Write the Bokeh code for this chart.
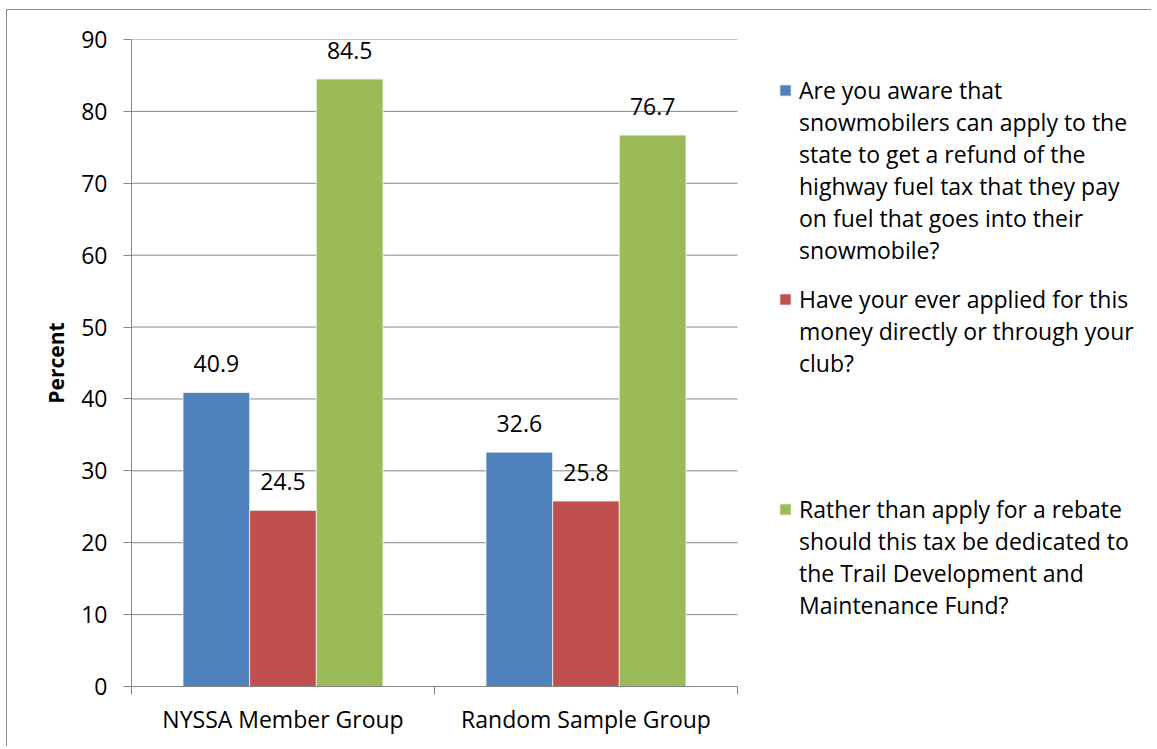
from bokeh.plotting import figure
from bokeh.models import (ColumnDataSource, Range1d, FixedTicker, Legend, LegendItem)
from bokeh.transform import dodge
from bokeh.core.properties import value
from bokeh.embed import file_html
from bokeh.resources import INLINE

# ---- data ----
groups = ["NYSSA Member Group", "Random Sample Group"]
aware = [40.9, 32.6]
applied = [24.5, 25.8]
dedicated = [84.5, 76.7]
series_lines = [
    ["Are you aware that", "snowmobilers can apply to the", "state to get a refund of the",
     "highway fuel tax that they pay", "on fuel that goes into their", "snowmobile?"],
    ["Have your ever applied for this", "money directly or through your", "club?"],
    ["Rather than apply for a rebate", "should this tax be dedicated to",
     "the Trail Development and", "Maintenance Fund?"],
]
colors = ["#4F81BD", "#C0504D", "#9BBB59"]
y_ticks = [0, 10, 20, 30, 40, 50, 60, 70, 80, 90]

FONT = "Open Sans"
GRAY = "#868686"

centers = [i + 0.5 for i in range(len(groups))]
src = ColumnDataSource(dict(
    x=centers,
    aware=aware, applied=applied, dedicated=dedicated,
    aware_t=[f"{v:.1f}" for v in aware],
    applied_t=[f"{v:.1f}" for v in applied],
    dedicated_t=[f"{v:.1f}" for v in dedicated],
))

# layout: the chart area (2 categories) is 606 px wide; the frame is widened to host the legend
CHART_W, FW, FH = 606, 1020, 647
n = len(groups)
p = figure(frame_width=FW, frame_height=FH, output_backend="svg", toolbar_location=None,
           x_range=Range1d(0, n * FW / CHART_W), y_range=Range1d(0, 90),
           min_border_left=124, min_border_right=0, min_border_top=29,
           min_border_bottom=60)
p.outline_line_color = None
p.background_fill_color = "white"
p.border_fill_color = "white"
p.styles = {"border-top": "1px solid #8c8c8c", "border-left": "1px solid #8c8c8c",
            "margin-left": "6px", "margin-top": "9px"}

# horizontal gridlines only across the chart area
p.segment(x0=[0] * len(y_ticks), x1=[n] * len(y_ticks), y0=y_ticks, y1=y_ticks,
          line_color=GRAY, line_width=1)

W = 0.22
keys = ["aware", "applied", "dedicated"]
offs = [-W, 0.0, W]
renderers = []
for off, key, col in zip(offs, keys, colors):
    r = p.vbar(x=dodge("x", off, range=p.x_range), top=key, width=W, bottom=0,
               source=src, fill_color=col, line_color="#f4f6ee", line_width=0.8)
    renderers.append(r)
for off, key in zip(offs, keys):
    p.text(x=dodge("x", off, range=p.x_range), y=key, text=key + "_t", source=src,
           text_align="center", text_baseline="alphabetic", y_offset=-29,
           text_font=value(FONT), text_font_size="23px", text_color="black")

dummy = p.vbar(x=[], top=[], width=0.1, fill_alpha=0, line_alpha=0)

# y axis
ya = p.yaxis[0]
ya.ticker = FixedTicker(ticks=y_ticks)
ya.axis_line_color = GRAY
ya.major_tick_line_color = GRAY
ya.major_tick_out = 8
ya.major_tick_in = 0
ya.minor_tick_line_color = None
ya.major_label_text_font = FONT
ya.major_label_text_font_size = "23px"
ya.major_label_text_color = "black"
ya.major_label_standoff = 16
ya.axis_label = "Percent"
ya.axis_label_text_font = FONT
ya.axis_label_text_font_size = "21px"
ya.axis_label_text_font_style = "bold"
ya.axis_label_text_color = "black"
ya.axis_label_standoff = 8

# x axis
xa = p.xaxis[0]
xa.bounds = (0, n)
xa.ticker = FixedTicker(ticks=centers, minor_ticks=list(range(n + 1)))
xa.major_label_overrides = {c: g for c, g in zip(centers, groups)}
xa.axis_line_color = GRAY
xa.major_tick_line_color = None
xa.major_tick_out = 0
xa.major_tick_in = 0
xa.minor_tick_line_color = GRAY
xa.minor_tick_out = 8
xa.minor_tick_in = 0
xa.major_label_text_font = FONT
xa.major_label_text_font_size = "23px"
xa.major_label_text_color = "black"
xa.major_label_standoff = 8

p.xgrid.grid_line_color = None
p.ygrid.grid_line_color = None

LINE_H = 32
legend_tops = [35, 244, 454]   # px below the frame top, for each series block
for lines, r, top in zip(series_lines, renderers, legend_tops):
    items = [LegendItem(label=lines[0], renderers=[r])]
    items += [LegendItem(label=t, renderers=[dummy]) for t in lines[1:]]
    h = LINE_H * len(lines)
    lg = Legend(items=items, location=(647, FH - top - h), margin=0, padding=0, spacing=0,
                glyph_width=14, glyph_height=14, label_standoff=7, label_height=LINE_H,
                label_text_font=FONT, label_text_font_size="23px",
                label_text_line_height=1.0, label_text_color="black",
                border_line_color=None, background_fill_alpha=0)
    p.add_layout(lg, "center")

open("out.html", "w").write(file_html(p, INLINE))
